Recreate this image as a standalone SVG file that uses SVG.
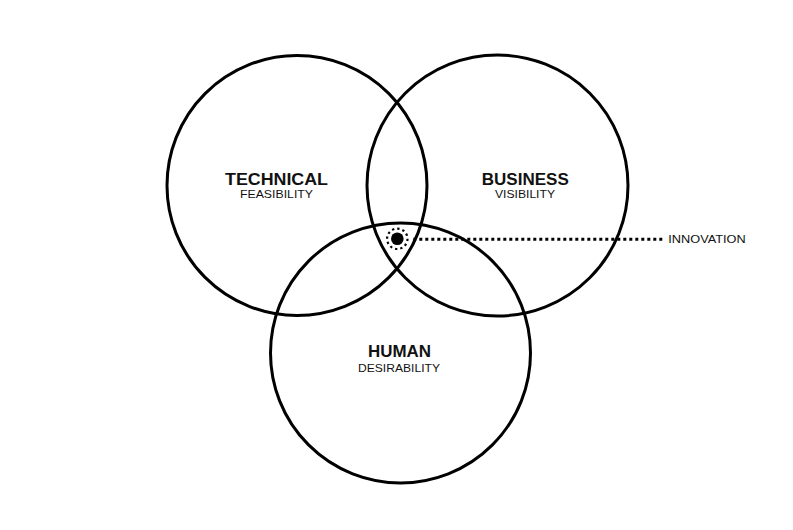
<svg xmlns="http://www.w3.org/2000/svg" width="793" height="530" viewBox="0 0 793 530">
<style>
.c{fill:none;stroke:#000;stroke-width:3}
.h{font-family:"Liberation Sans",Arial,sans-serif;font-weight:bold;font-size:16.8px;fill:#111;text-anchor:middle}
.s{font-family:"Liberation Sans",Arial,sans-serif;font-size:10.4px;fill:#111;text-anchor:middle}
.i{font-family:"Liberation Sans",Arial,sans-serif;font-size:10.4px;fill:#111}
</style>
<rect width="793" height="530" fill="#fff"/>
<g id="technical">
<circle class="c" cx="297" cy="185.5" r="130"/>
<text class="h" x="276.5" y="185" textLength="103" lengthAdjust="spacingAndGlyphs">TECHNICAL</text>
<text class="s" x="276.5" y="198" textLength="73" lengthAdjust="spacingAndGlyphs">FEASIBILITY</text>
</g>
<g id="business">
<circle class="c" cx="497.5" cy="185.5" r="130.5"/>
<text class="h" x="525.3" y="185" textLength="87" lengthAdjust="spacingAndGlyphs">BUSINESS</text>
<text class="s" x="525" y="198" textLength="60" lengthAdjust="spacingAndGlyphs">VISIBILITY</text>
</g>
<g id="human">
<circle class="c" cx="400.5" cy="353" r="130"/>
<text class="h" x="399.5" y="356.5" textLength="63" lengthAdjust="spacingAndGlyphs">HUMAN</text>
<text class="s" x="399" y="372" textLength="82" lengthAdjust="spacingAndGlyphs">DESIRABILITY</text>
</g>
<g id="innovation">
<circle cx="397.3" cy="238.8" r="6.3" fill="#000"/>
<circle cx="397.3" cy="238.8" r="10.2" fill="none" stroke="#000" stroke-width="2.2" stroke-dasharray="2.3 3"/>
<text class="i" x="668.3" y="243.3" textLength="77.4" lengthAdjust="spacingAndGlyphs">INNOVATION</text>
</g>
<g id="connectors">
<line x1="413.3" y1="239.3" x2="662.7" y2="239.3" stroke="#000" stroke-width="3" stroke-dasharray="3 3"/>
</g>
</svg>
